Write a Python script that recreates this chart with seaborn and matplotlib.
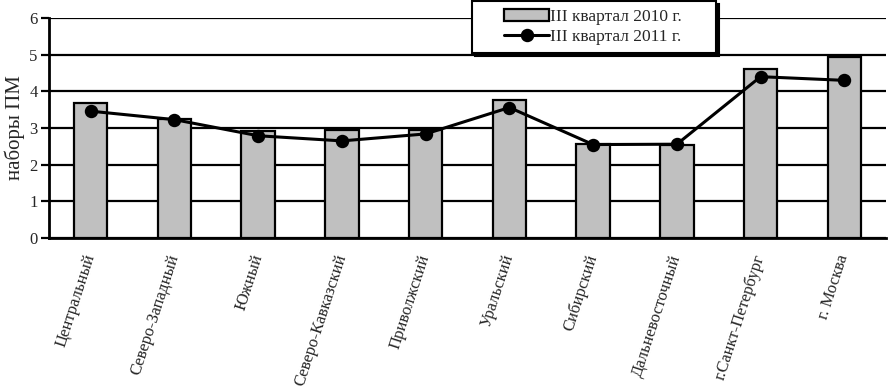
import seaborn as sns
import matplotlib.pyplot as plt
import pandas as pd
import numpy as np
from matplotlib.legend_handler import HandlerPatch, HandlerLine2D
from matplotlib.lines import Line2D
from matplotlib.container import BarContainer

regions = ['Центральный', 'Северо-Западный', 'Южный', 'Северо-Кавказский', 'Приволжский',
           'Уральский', 'Сибирский', 'Дальневосточный', 'г.Санкт-Петербург', 'г. Москва']
q3_2010 = [3.69, 3.26, 2.93, 2.94, 2.96, 3.77, 2.56, 2.55, 4.60, 4.94]
q3_2011 = [3.46, 3.23, 2.79, 2.65, 2.84, 3.56, 2.55, 2.56, 4.40, 4.30]

df = pd.DataFrame({'region': regions, 'y2010': q3_2010, 'y2011': q3_2011})

sns.set_style('white')
plt.rcParams['font.family'] = ['Liberation Serif', 'DejaVu Serif']

fig = plt.figure(figsize=(8.88, 3.91), dpi=100)
ax = fig.add_axes([0.055, 0.391, 0.943, 0.563])

sns.barplot(data=df, x='region', y='y2010', color='#c0c0c0', edgecolor='black',
            linewidth=1.6, width=0.4, saturation=1, ax=ax, label='III квартал 2010 г.', zorder=3)
sns.pointplot(data=df, x='region', y='y2011', color='black', markers='o', markersize=8,
              linewidth=2.2, ax=ax, label='III квартал 2011 г.')
for c in ax.collections:
    c.set_zorder(5)
for l in ax.lines:
    l.set_zorder(5)

ax.set_ylim(0, 6)
ax.set_xlim(-0.5, 9.5)
ax.set_yticks(range(7))
ax.yaxis.grid(True, color='black', linewidth=1.6)
ax.set_axisbelow(True)
for s in ['top', 'right']:
    ax.spines[s].set_visible(False)
ax.spines['left'].set_linewidth(2)
ax.spines['bottom'].set_linewidth(2)
ax.spines['left'].set_color('black')
ax.spines['bottom'].set_color('black')

ax.set_xticks(np.arange(10))
ax.set_xticklabels(regions, rotation=72, ha='right', va='center', rotation_mode='anchor', fontsize=12)
ax.tick_params(axis='x', which='major', length=0, pad=12)
ax.set_xticks(np.arange(-0.5, 10, 1), minor=True)
ax.tick_params(axis='x', which='minor', direction='inout', length=8, width=1.6, color='black')
ax.tick_params(axis='y', direction='out', length=6, width=1.6, color='black', labelsize=12, pad=2, left=True)
ax.set_xlabel('')
ax.set_ylabel('наборы ПМ', fontsize=15, labelpad=3)

handles, labels = ax.get_legend_handles_labels()
order = [labels.index('III квартал 2010 г.'), labels.index('III квартал 2011 г.')]


def first_bar(legend_handle, orig_handle):
    legend_handle.update_from(orig_handle.patches[0])


leg = ax.legend([handles[i] for i in order], [labels[i] + '      ' for i in order],
                loc='upper left', bbox_to_anchor=(472 / 888, 0.998), bbox_transform=fig.transFigure,
                frameon=True, fancybox=False, shadow={'color': 'black', 'alpha': 1}, edgecolor='black',
                fontsize=12.5, borderpad=0.45, labelspacing=0.25, handlelength=4.0, handletextpad=0.05,
                borderaxespad=0,
                handler_map={BarContainer: HandlerPatch(xpad=1.4, update_func=first_bar),
                             Line2D: HandlerLine2D(xpad=1.4)})
leg.get_frame().set_linewidth(1.5)
leg.set_zorder(10)

fig.savefig('out.png', dpi=100, facecolor='white')
